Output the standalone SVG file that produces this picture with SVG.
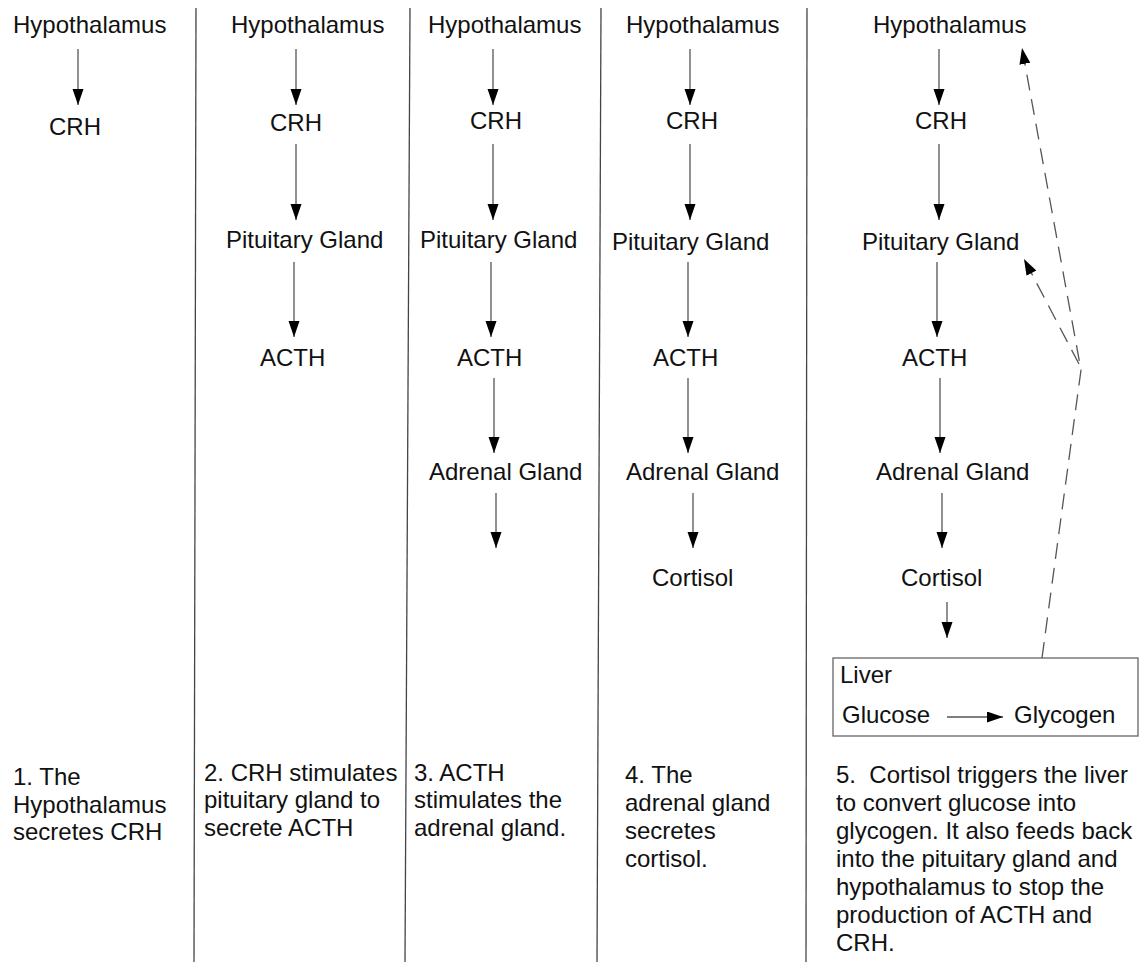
<svg xmlns="http://www.w3.org/2000/svg" width="1140" height="962" viewBox="0 0 1140 962">
<style>
text{font-family:"Liberation Sans",Arial,sans-serif;font-size:24px;fill:#111}
.c{stroke:#555;stroke-width:1.3;fill:none}
.d{stroke:#555;stroke-width:1.3;fill:none;stroke-dasharray:16,9}
.div{stroke:#444;stroke-width:1.3}
</style>
<defs>
<marker id="ah" markerUnits="userSpaceOnUse" markerWidth="17" markerHeight="12" refX="16" refY="5.5" orient="auto">
<path d="M0,0 L16,5.5 L0,11 z" fill="#000"/>
</marker>
</defs>
<rect width="1140" height="962" fill="#fff"/>
<g id="dividers">
<line class="div" x1="196" y1="8" x2="194" y2="962"/>
<line class="div" x1="410" y1="8" x2="405" y2="962"/>
<line class="div" x1="601" y1="8" x2="597" y2="962"/>
<line class="div" x1="807" y1="8" x2="806" y2="962"/>
</g>
<g id="col1">
<text id="c1-hyp" x="13" y="33">Hypothalamus</text>
<text id="c1-crh" x="49" y="135">CRH</text>
<text id="c1-cap"><tspan x="13" y="785">1. The</tspan><tspan x="13" y="813">Hypothalamus</tspan><tspan x="13" y="840">secretes CRH</tspan></text>
</g>
<g id="col2">
<text id="c2-hyp" x="231" y="33">Hypothalamus</text>
<text id="c2-crh" x="270" y="131">CRH</text>
<text id="c2-pit" x="226" y="248">Pituitary Gland</text>
<text id="c2-acth" x="260" y="366">ACTH</text>
<text id="c2-cap"><tspan x="204" y="781">2. CRH stimulates</tspan><tspan x="204" y="808">pituitary gland to</tspan><tspan x="204" y="836">secrete ACTH</tspan></text>
</g>
<g id="col3">
<text id="c3-hyp" x="428" y="33">Hypothalamus</text>
<text id="c3-crh" x="470" y="129">CRH</text>
<text id="c3-pit" x="420" y="248">Pituitary Gland</text>
<text id="c3-acth" x="457" y="366">ACTH</text>
<text id="c3-adr" x="429" y="480">Adrenal Gland</text>
<text id="c3-cap"><tspan x="414" y="781">3. ACTH</tspan><tspan x="414" y="808">stimulates the</tspan><tspan x="414" y="836">adrenal gland.</tspan></text>
</g>
<g id="col4">
<text id="c4-hyp" x="626" y="33">Hypothalamus</text>
<text id="c4-crh" x="666" y="129">CRH</text>
<text id="c4-pit" x="612" y="250">Pituitary Gland</text>
<text id="c4-acth" x="653" y="366">ACTH</text>
<text id="c4-adr" x="626" y="480">Adrenal Gland</text>
<text id="c4-cor" x="652" y="586">Cortisol</text>
<text id="c4-cap"><tspan x="625" y="783">4. The</tspan><tspan x="625" y="811">adrenal gland</tspan><tspan x="625" y="839">secretes</tspan><tspan x="625" y="867">cortisol.</tspan></text>
</g>
<g id="col5">
<text id="c5-hyp" x="873" y="33">Hypothalamus</text>
<text id="c5-crh" x="915" y="129">CRH</text>
<text id="c5-pit" x="862" y="250">Pituitary Gland</text>
<text id="c5-acth" x="902" y="366">ACTH</text>
<text id="c5-adr" x="876" y="480">Adrenal Gland</text>
<text id="c5-cor" x="901" y="586">Cortisol</text>
<text id="c5-cap"><tspan x="836" y="783" style="white-space:pre" xml:space="preserve">5.  Cortisol triggers the liver</tspan><tspan x="836" y="811">to convert glucose into</tspan><tspan x="836" y="839">glycogen. It also feeds back</tspan><tspan x="836" y="867">into the pituitary gland and</tspan><tspan x="836" y="895">hypothalamus to stop the</tspan><tspan x="836" y="923">production of ACTH and</tspan><tspan x="836" y="951">CRH.</tspan></text>
</g>
<g id="liver">
<rect x="833" y="658" width="305" height="78" fill="#fff" stroke="#666" stroke-width="1.3"/>
<text x="840" y="683">Liver</text>
<text x="842" y="723">Glucose</text>
<text x="1014" y="723">Glycogen</text>
</g>
<g id="connectors">
<line class="c" x1="78" y1="49" x2="78" y2="105" marker-end="url(#ah)"/>
<line class="c" x1="296" y1="49" x2="296" y2="105" marker-end="url(#ah)"/>
<line class="c" x1="296" y1="144" x2="296" y2="220" marker-end="url(#ah)"/>
<line class="c" x1="294" y1="262" x2="294" y2="337" marker-end="url(#ah)"/>
<line class="c" x1="493" y1="49" x2="493" y2="105" marker-end="url(#ah)"/>
<line class="c" x1="493" y1="144" x2="493" y2="220" marker-end="url(#ah)"/>
<line class="c" x1="491" y1="262" x2="491" y2="337" marker-end="url(#ah)"/>
<line class="c" x1="494" y1="378" x2="494" y2="453" marker-end="url(#ah)"/>
<line class="c" x1="496" y1="493" x2="496" y2="548" marker-end="url(#ah)"/>
<line class="c" x1="690" y1="49" x2="690" y2="105" marker-end="url(#ah)"/>
<line class="c" x1="690" y1="144" x2="690" y2="220" marker-end="url(#ah)"/>
<line class="c" x1="688" y1="262" x2="688" y2="337" marker-end="url(#ah)"/>
<line class="c" x1="688" y1="378" x2="688" y2="453" marker-end="url(#ah)"/>
<line class="c" x1="693" y1="493" x2="693" y2="548" marker-end="url(#ah)"/>
<line class="c" x1="939" y1="49" x2="939" y2="105" marker-end="url(#ah)"/>
<line class="c" x1="939" y1="144" x2="939" y2="220" marker-end="url(#ah)"/>
<line class="c" x1="937" y1="262" x2="937" y2="337" marker-end="url(#ah)"/>
<line class="c" x1="940" y1="378" x2="940" y2="453" marker-end="url(#ah)"/>
<line class="c" x1="942" y1="493" x2="942" y2="548" marker-end="url(#ah)"/>
<line class="c" x1="947" y1="602" x2="947" y2="638" marker-end="url(#ah)"/>
<line class="c" x1="947" y1="717" x2="1003" y2="717" marker-end="url(#ah)"/>
<path class="d" d="M1042,658 L1081,370 L1022,48" marker-end="url(#ah)"/>
<path class="d" d="M1079,364 L1024,259" marker-end="url(#ah)"/>
</g>
</svg>
